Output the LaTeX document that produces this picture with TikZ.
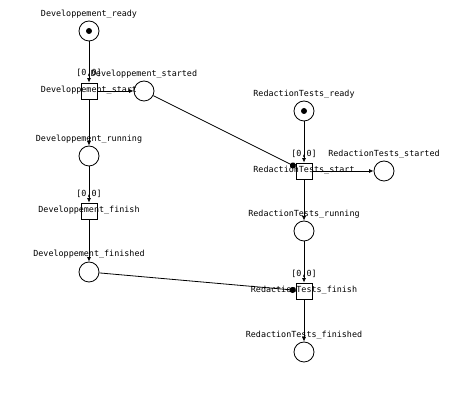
\documentclass[tikz,border=0pt]{standalone}
\usepackage{fontspec}
\newfontfamily\netfont{DejaVu Sans Mono}
\usetikzlibrary{arrows,arrows.meta,positioning}

\tikzset{
  place/.style={draw,circle,minimum size=20pt,inner sep=0pt},
  trans/.style={draw,rectangle,minimum size=16pt,inner sep=0pt},
  token/.style={fill,circle,minimum size=6pt,inner sep=0pt},
  lbl/.style={font=\netfont\fontsize{8.4}{9}\selectfont,inner sep=0pt,text height=5pt,text depth=1.5pt},
  arc/.style={-{Latex[length=4.5pt,width=4pt]}},
  test/.style={-{Circle[length=6pt]}},
}

\begin{document}
\begin{tikzpicture}[x=1pt,y=-1pt,line width=0.8pt]
\useasboundingbox (0,0) rectangle (459,403);

% Developpement
\node[place] (dr) at (89,31) {};
\node[token] (dr-t) at (dr) {};
\node[trans] (dst) at (89,91) {};
\node[place] (dsd) at (144,91) {};
\node[place] (drun) at (89,156) {};
\node[trans] (dfin) at (89,211) {};
\node[place] (dfd) at (89,272) {};

% RedactionTests
\node[place] (rr) at (304,111) {};
\node[token] (rr-t) at (rr) {};
\node[trans] (rst) at (304,171) {};
\node[place] (rsd) at (384,171) {};
\node[place] (rrun) at (304,231) {};
\node[trans] (rfin) at (304,291) {};
\node[place] (rfd) at (304,352) {};

% labels
\node[lbl,above=2.5pt of dr] (dr-l) {Developpement\_ready};
\node[lbl,above=2.5pt of dsd] (dsd-l) {Developpement\_started};
\node[lbl,above=2.5pt of drun] (drun-l) {Developpement\_running};
\node[lbl,above=3pt of dfd] (dfd-l) {Developpement\_finished};
\node[lbl,above=2.5pt of rr] (rr-l) {RedactionTests\_ready};
\node[lbl,above=2.5pt of rsd] (rsd-l) {RedactionTests\_started};
\node[lbl,above=2.5pt of rrun] (rrun-l) {RedactionTests\_running};
\node[lbl,above=2.5pt of rfd] (rfd-l) {RedactionTests\_finished};

\node[lbl,above=5pt of dst] (dst-i) {[0,0]};
\node[lbl,above=4.5pt of dfin] (dfin-i) {[0,0]};
\node[lbl,above=4.5pt of rst] (rst-i) {[0,0]};
\node[lbl,above=4.5pt of rfin] (rfin-i) {[0,0]};

\node[lbl] (dst-l) at (dst) {Developpement\_start};
\node[lbl] (dfin-l) at (dfin) {Developpement\_finish};
\node[lbl] (rst-l) at (rst) {RedactionTests\_start};
\node[lbl] (rfin-l) at (rfin) {RedactionTests\_finish};

% arcs
\draw[arc] (dr) -- (dst);
\draw[arc] (dst) -- (dsd);
\draw[arc] (dst) -- (drun);
\draw[arc] (drun) -- (dfin);
\draw[arc] (dfin) -- (dfd);

\draw[arc] (rr) -- (rst);
\draw[arc] (rst) -- (rsd);
\draw[arc] (rst) -- (rrun);
\draw[arc] (rrun) -- (rfin);
\draw[arc] (rfin) -- (rfd);

\draw[test] (dsd) -- (rst);
\draw[test] (dfd) -- (rfin);

\end{tikzpicture}
\end{document}
